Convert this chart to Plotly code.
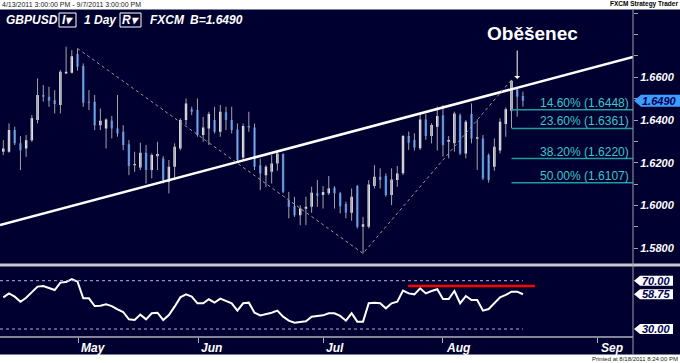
import plotly.graph_objects as go

# ---------------- data ----------------
opens = [1.6252, 1.6252, 1.6353, 1.6291, 1.6267, 1.6306, 1.6400, 1.6517, 1.6509, 1.6493,
         1.6470, 1.6618, 1.6621, 1.6709, 1.6653, 1.6486, 1.6486, 1.6376, 1.6361, 1.6397,
         1.6361, 1.6345, 1.6287, 1.6188, 1.6178, 1.6247, 1.6166, 1.6231, 1.6220, 1.6111,
         1.6181, 1.6267, 1.6400, 1.6450, 1.6447, 1.6330, 1.6361, 1.6400, 1.6345, 1.6436,
         1.6400, 1.6356, 1.6225, 1.6372, 1.6365, 1.6189, 1.6142, 1.6158, 1.6197, 1.6241,
         1.6025, 1.5999, 1.5955, 1.5985, 1.5994, 1.6057, 1.6049, 1.6057, 1.6083, 1.6057,
         1.6007, 1.5966, 1.6091, 1.5901, 1.5901, 1.6091, 1.6135, 1.6138, 1.6049, 1.6119,
         1.6151, 1.6325, 1.6307, 1.6268, 1.6403, 1.6325, 1.6369, 1.6423, 1.6299, 1.6291,
         1.6423, 1.6244, 1.6428, 1.6313, 1.6314, 1.6236, 1.6182, 1.6257, 1.6381, 1.6444,
         1.6544, 1.6513]
highs = [1.6306, 1.6384, 1.6369, 1.6325, 1.6330, 1.6423, 1.6595, 1.6564, 1.6556, 1.6540,
         1.6634, 1.6743, 1.6727, 1.6735, 1.6665, 1.6540, 1.6517, 1.6454, 1.6408, 1.6419,
         1.6517, 1.6376, 1.6306, 1.6252, 1.6294, 1.6283, 1.6244, 1.6298, 1.6231, 1.6213,
         1.6291, 1.6408, 1.6501, 1.6462, 1.6501, 1.6415, 1.6439, 1.6462, 1.6470, 1.6462,
         1.6462, 1.6384, 1.6384, 1.6439, 1.6384, 1.6220, 1.6189, 1.6236, 1.6252, 1.6244,
         1.6064, 1.6041, 1.6002, 1.6041, 1.6088, 1.6119, 1.6091, 1.6138, 1.6091, 1.6064,
         1.6018, 1.6080, 1.6096, 1.5947, 1.6119, 1.6189, 1.6174, 1.6150, 1.6174, 1.6185,
         1.6330, 1.6346, 1.6338, 1.6431, 1.6428, 1.6385, 1.6463, 1.6470, 1.6325, 1.6439,
         1.6431, 1.6400, 1.6478, 1.6403, 1.6330, 1.6244, 1.6314, 1.6408, 1.6459, 1.6588,
         1.6548, 1.6533]
lows = [1.6236, 1.6247, 1.6283, 1.6166, 1.6228, 1.6298, 1.6384, 1.6486, 1.6462, 1.6431,
        1.6431, 1.6618, 1.6618, 1.6631, 1.6462, 1.6447, 1.6353, 1.6353, 1.6267, 1.6314,
        1.6322, 1.6259, 1.6142, 1.6158, 1.6166, 1.6103, 1.6127, 1.6166, 1.6103, 1.6057,
        1.6119, 1.6259, 1.6376, 1.6423, 1.6322, 1.6298, 1.6283, 1.6337, 1.6322, 1.6353,
        1.6337, 1.6205, 1.6213, 1.6345, 1.6166, 1.6072, 1.6088, 1.6103, 1.6163, 1.6057,
        1.5940, 1.5947, 1.5908, 1.5908, 1.5966, 1.5994, 1.5986, 1.6049, 1.5986, 1.5963,
        1.5940, 1.5929, 1.5893, 1.5776, 1.5893, 1.6080, 1.6080, 1.6041, 1.6002, 1.6088,
        1.6143, 1.6260, 1.6257, 1.6260, 1.6307, 1.6291, 1.6257, 1.6229, 1.6221, 1.6252,
        1.6236, 1.6221, 1.6291, 1.6166, 1.6119, 1.6107, 1.6163, 1.6244, 1.6322, 1.6363,
        1.6416, 1.6463]
closes = [1.6267, 1.6353, 1.6291, 1.6259, 1.6306, 1.6408, 1.6517, 1.6509, 1.6490, 1.6475,
          1.6626, 1.6626, 1.6699, 1.6649, 1.6481, 1.6481, 1.6376, 1.6397, 1.6403, 1.6361,
          1.6337, 1.6283, 1.6185, 1.6194, 1.6247, 1.6166, 1.6236, 1.6241, 1.6119, 1.6181,
          1.6275, 1.6400, 1.6478, 1.6439, 1.6330, 1.6365, 1.6428, 1.6345, 1.6439, 1.6400,
          1.6353, 1.6213, 1.6372, 1.6365, 1.6181, 1.6150, 1.6181, 1.6197, 1.6244, 1.6064,
          1.5994, 1.5955, 1.5986, 1.5994, 1.6060, 1.6046, 1.6063, 1.6080, 1.6057, 1.5997,
          1.5966, 1.6041, 1.5901, 1.5913, 1.6099, 1.6135, 1.6119, 1.6049, 1.6122, 1.6150,
          1.6325, 1.6294, 1.6272, 1.6403, 1.6325, 1.6377, 1.6419, 1.6283, 1.6307, 1.6431,
          1.6244, 1.6392, 1.6314, 1.6319, 1.6127, 1.6119, 1.6275, 1.6392, 1.6450, 1.6584,
          1.6509, 1.6490]
rsi = [56.2, 59.5, 56.8, 52.6, 55.9, 60.4, 65.1, 65.6, 64.0, 62.3,
       68.4, 68.9, 71.4, 69.2, 55.4, 55.4, 49.0, 49.3, 50.4, 49.0,
       46.3, 44.1, 38.0, 37.5, 41.9, 38.0, 43.0, 43.5, 37.5, 41.6,
       48.5, 56.2, 58.7, 56.8, 51.3, 51.3, 54.6, 51.8, 55.1, 53.5,
       51.3, 45.2, 51.3, 51.8, 43.5, 41.3, 42.1, 43.5, 45.2, 40.2,
       36.9, 35.2, 35.8, 36.4, 40.2, 41.0, 41.3, 43.0, 43.0, 40.8,
       36.9, 43.0, 36.1, 36.1, 51.3, 51.8, 51.3, 47.1, 51.3, 52.6,
       61.8, 59.5, 58.7, 63.7, 59.5, 61.5, 62.9, 54.8, 54.8, 61.5,
       51.3, 57.3, 54.0, 54.0, 45.2, 46.5, 51.8, 56.2, 58.2, 60.9,
       60.9, 58.75]
month_labels = ["May", "Jun", "Jul", "Aug", "Sep"]
month_pos = [14.1, 35.1, 57.0, 78.0, 105.1]
price_ticks = [1.58, 1.60, 1.62, 1.64, 1.66]
fib_pcts = [14.60, 23.60, 38.20, 50.00]
fib_levels = [1.6448, 1.6361, 1.6220, 1.6107]
fib_start = 90
zigzag_idx = [14, 64, 90]
trend_start, trend_end = 1.5909, 1.6695
last_price = 1.6490
rsi_guides = [70.0, 30.0]
rsi_tags = [70.0, 58.75, 30.0]
rsi_resist = 65.6
rsi_resist_span = [71.9, 94.1]
annotation_text = "Oběšenec"
header_range = "4/13/2011 3:00:00 PM - 9/7/2011 3:00:00 PM"
printed = "Printed at 8/18/2011 8:24:00 PM"

# ---------------- layout helpers ----------------
W, H = 680, 363
def fx(p): return p / W
def fy(p): return 1 - p / H

NAVY = "#000030"
FONT = "Liberation Sans, Arial, sans-serif"
XR = [0.422, 111.28]
YR = [1.57312, 1.69149]
RR = [23.37, 80.52]
MAIN_TOP, MAIN_BOT = 10, 263
RSI_TOP, RSI_BOT = 268, 337
AX_X = 633

def price_py(v):
    return MAIN_TOP + (YR[1] - v) / (YR[1] - YR[0]) * (MAIN_BOT - MAIN_TOP)

def rsi_py(v):
    return RSI_TOP + (RR[1] - v) / (RR[1] - RR[0]) * (RSI_BOT - RSI_TOP)

n = len(closes)
idx = list(range(1, n + 1))

fig = go.Figure()

# wicks
wx, wy = [], []
for i, (h, l) in enumerate(zip(highs, lows)):
    wx += [idx[i], idx[i], None]
    wy += [h, l, None]
fig.add_trace(go.Scatter(x=wx, y=wy, mode="lines", line=dict(color="#a4a4a4", width=1),
                         hoverinfo="skip", xaxis="x", yaxis="y"))
fig.add_trace(go.Candlestick(
    x=idx, open=opens, high=highs, low=lows, close=closes,
    increasing=dict(fillcolor="#ffffff", line=dict(color="#ffffff", width=0)),
    decreasing=dict(fillcolor="#2a84f0", line=dict(color="#2a84f0", width=0)),
    whiskerwidth=0, xaxis="x", yaxis="y"))

# trend line
fig.add_trace(go.Scatter(x=XR, y=[trend_start, trend_end], mode="lines",
                         line=dict(color="#ffffff", width=2.5), xaxis="x", yaxis="y"))
# dashed zigzag
zz_y = [highs[zigzag_idx[0] - 1], lows[zigzag_idx[1] - 1], highs[zigzag_idx[2] - 1]]
fig.add_trace(go.Scatter(x=zigzag_idx, y=zz_y, mode="lines",
                         line=dict(color="#9a9a9a", width=1, dash="3px,3px"), xaxis="x", yaxis="y"))

# RSI
fig.add_trace(go.Scatter(x=idx, y=rsi, mode="lines", line=dict(color="#ffffff", width=2),
                         xaxis="x2", yaxis="y2"))

shapes = []
annotations = []

def ann(**kw):
    kw.setdefault("showarrow", False)
    kw.setdefault("xanchor", "center")
    kw.setdefault("yanchor", "middle")
    annotations.append(kw)

# dark background
shapes.append(dict(type="rect", xref="paper", yref="paper", x0=0, x1=1, y0=fy(354.5), y1=fy(9.5),
                   fillcolor=NAVY, line=dict(width=0), layer="below"))

# fib lines & labels
for p, lv in zip(fib_pcts, fib_levels):
    shapes.append(dict(type="line", xref="x", yref="y", x0=fib_start, x1=XR[1], y0=lv, y1=lv,
                       line=dict(color="#1f9c9c", width=1.5)))
    ann(xref="paper", yref="paper", x=fx(631), y=fy(price_py(lv) - 7), xanchor="right",
        text=f"{p:.2f}% ({lv:.4f})", font=dict(family=FONT, size=12, color="#3cc6c6"))

# RSI guide lines
for g in rsi_guides:
    shapes.append(dict(type="line", xref="x2", yref="y2", x0=XR[0], x1=n, y0=g, y1=g,
                       line=dict(color="#b4b4d8", width=1, dash="3px,3px")))
shapes.append(dict(type="line", xref="x2", yref="y2", x0=rsi_resist_span[0], x1=rsi_resist_span[1],
                   y0=rsi_resist, y1=rsi_resist, line=dict(color="#ff0000", width=2.5)))

# frame lines
shapes.append(dict(type="rect", xref="paper", yref="paper", x0=0, x1=1, y0=fy(266.5), y1=fy(263.5),
                   fillcolor="#c8c8d0", line=dict(width=0)))
shapes.append(dict(type="line", xref="paper", yref="paper", x0=0, x1=fx(AX_X), y0=fy(337), y1=fy(337),
                   line=dict(color="#b0b0b8", width=1.5)))
shapes.append(dict(type="line", xref="paper", yref="paper", x0=fx(AX_X), x1=fx(AX_X), y0=fy(354.5),
                   y1=fy(9.5), line=dict(color="#a0a0a8", width=1)))

def tag_path(py, x_tip, x_neck, x_end, half):
    return (f"M {fx(x_tip)} {fy(py)} L {fx(x_neck)} {fy(py - half)} L {fx(x_end)} {fy(py - half)} "
            f"L {fx(x_end)} {fy(py + half)} L {fx(x_neck)} {fy(py + half)} Z")

# price tag
py_last = price_py(last_price)
shapes.append(dict(type="path", xref="paper", yref="paper", path=tag_path(py_last, 634, 641, 680, 6),
                   fillcolor="#3f9cff", line=dict(width=0)))
ann(xref="paper", yref="paper", x=fx(659), y=fy(py_last), text=f"{last_price:.4f}",
    font=dict(family=FONT, size=11, color="#000050", weight="bold", style="italic"))

# RSI tags
for v in rsi_tags:
    py = rsi_py(v)
    shapes.append(dict(type="path", xref="paper", yref="paper", path=tag_path(py, 634, 640, 673, 5),
                       fillcolor="#ffffff", line=dict(width=0)))
    ann(xref="paper", yref="paper", x=fx(656), y=fy(py), text=f"{v:.2f}",
        font=dict(family=FONT, size=11, color="#000050", weight="bold", style="italic"))

# month labels
for lab, pos in zip(month_labels, month_pos):
    ann(xref="x2", yref="paper", x=pos, y=fy(347.5), xanchor="left", xshift=1, text=lab,
        font=dict(family=FONT, size=12, color="#ffffff", weight="bold", style="italic"))

# header
hdr_font = dict(family=FONT, size=12, color="#ffffff", weight="bold", style="italic")
for txt, xp in [("GBPUSD", 4), ("1 Day", 82), ("FXCM", 148), (f"B={last_price:.4f}", 188)]:
    ann(xref="paper", yref="paper", x=fx(xp), y=fy(20), xanchor="left", text=txt, font=hdr_font)
for txt, x0, x1 in [("I▾", 59, 76), ("R▾", 120, 141)]:
    shapes.append(dict(type="rect", xref="paper", yref="paper", x0=fx(x0), x1=fx(x1),
                       y0=fy(27), y1=fy(13), line=dict(color="#ffffff", width=1), fillcolor=NAVY,
                       layer="below"))
    ann(xref="paper", yref="paper", x=fx((x0 + x1) / 2), y=fy(20), text=txt, font=hdr_font)

# Oběšenec with arrow
ann(xref="paper", yref="paper", x=fx(532), y=fy(33), text=annotation_text,
    font=dict(family=FONT, size=19, color="#ffffff", weight="bold"))
annotations.append(dict(xref="x", yref="paper", x=91, y=fy(79), text="", showarrow=True,
                        ax=0, ay=-30, arrowhead=1, arrowsize=1, arrowwidth=1, arrowcolor="#ffffff"))

# white strips text
ann(xref="paper", yref="paper", x=0, y=fy(4.5), xanchor="left", text=header_range,
    font=dict(family=FONT, size=7, color="#202020"))
ann(xref="paper", yref="paper", x=1, y=fy(4.5), xanchor="right", text="FXCM Strategy Trader",
    font=dict(family=FONT, size=6.5, color="#000000", weight="bold"))
ann(xref="paper", yref="paper", x=1, y=fy(358.5), xanchor="right", text=printed,
    font=dict(family=FONT, size=6, color="#202020"))

fig.update_layout(
    width=W, height=H, margin=dict(l=0, r=0, t=0, b=0),
    paper_bgcolor="#ffffff", plot_bgcolor=NAVY, showlegend=False, hovermode=False,
    boxgap=0.4,
    xaxis=dict(domain=[0, fx(AX_X)], range=XR, visible=False, rangeslider=dict(visible=False),
               anchor="y"),
    yaxis=dict(domain=[fy(MAIN_BOT), fy(MAIN_TOP)], range=YR, side="right", anchor="x",
               tickvals=price_ticks, tickformat=".4f", ticks="outside", ticklen=4, automargin=False,
               tickcolor="#a0a0a8", showgrid=False, zeroline=False, showline=False,
               tickfont=dict(family=FONT, size=11, color="#ffffff", weight="bold", style="italic"),
               minor=dict(dtick=0.01, tick0=1.58, ticks="outside", ticklen=4, tickcolor="#a0a0a8",
                          showgrid=False)),
    xaxis2=dict(domain=[0, fx(AX_X)], range=XR, anchor="y2", tickvals=month_pos, showticklabels=False,
                ticks="outside", ticklen=5, tickcolor="#b0b0b8", showgrid=False, zeroline=False,
                showline=False, automargin=False),
    yaxis2=dict(domain=[fy(RSI_BOT), fy(RSI_TOP)], range=RR, side="right", anchor="x2",
                showticklabels=False, ticks="", showgrid=False, zeroline=False, showline=False,
                automargin=False),
    shapes=shapes, annotations=annotations,
)

fig.write_html("out.html", config={"displayModeBar": False},
               post_script="document.body.style.margin='0';document.body.style.padding='0';")
